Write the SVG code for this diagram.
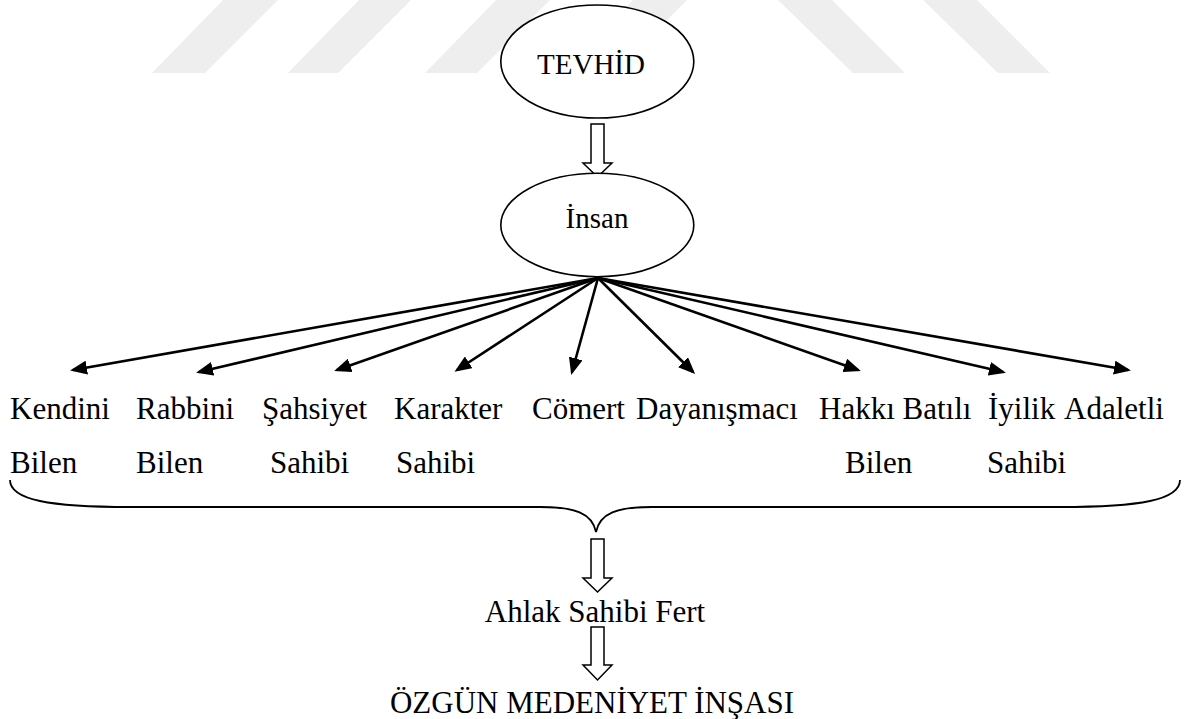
<svg xmlns="http://www.w3.org/2000/svg" width="1189" height="719" viewBox="0 0 1189 719">
<defs>
<style>
.wm{fill:#eeeeee;stroke:none}
.ell{fill:#ffffff;stroke:#000;stroke-width:1.6}
.t{font-family:"Liberation Serif","Times New Roman",serif;fill:#000}
.lab{font-size:31px}
.big{font-size:31px}
.et{font-size:29px}
.fan{stroke:#000;stroke-width:2.6;fill:none}
.hollow{fill:#fff;stroke:#000;stroke-width:1.5;stroke-linejoin:miter}
.brace{fill:none;stroke:#000;stroke-width:1.8}
</style>
<marker id="ah" markerUnits="userSpaceOnUse" markerWidth="18" markerHeight="14" refX="14" refY="7" orient="auto">
<path d="M0,0 L17,7 L0,14 Z" fill="#000"/>
</marker>
</defs>
<rect width="1189" height="719" fill="#fff"/>
<g id="watermark">
<polygon class="wm" points="152,73 205,73 280,-2 225,-2"/>
<polygon class="wm" points="288,73 338,73 413,-2 361,-2"/>
<polygon class="wm" points="425,73 477,73 552,-2 498,-2"/>
<polygon class="wm" points="562,73 614,73 689,-2 635,-2"/>
<polygon class="wm" points="776,-2 830,-2 905,73 853,73"/>
<polygon class="wm" points="921,-2 975,-2 1050,73 998,73"/>
</g>
<g id="connectors">
<path id="arrow-tevhid-insan" class="hollow" d="M591,124 L604,124 L604,163 L612,163 L597.5,177 L583,163 L591,163 Z"/>
<g id="fan">
<line class="fan" x1="598" y1="278" x2="73" y2="370" marker-end="url(#ah)"/>
<line class="fan" x1="598" y1="278" x2="199" y2="372" marker-end="url(#ah)"/>
<line class="fan" x1="598" y1="278" x2="337" y2="370" marker-end="url(#ah)"/>
<line class="fan" x1="598" y1="278" x2="457" y2="370" marker-end="url(#ah)"/>
<line class="fan" x1="598" y1="278" x2="572" y2="372" marker-end="url(#ah)"/>
<line class="fan" x1="598" y1="278" x2="693" y2="372" marker-end="url(#ah)"/>
<line class="fan" x1="598" y1="278" x2="858" y2="370" marker-end="url(#ah)"/>
<line class="fan" x1="598" y1="278" x2="1003" y2="372" marker-end="url(#ah)"/>
<line class="fan" x1="598" y1="278" x2="1128" y2="370" marker-end="url(#ah)"/>
</g>
<path id="brace" class="brace" d="M10,480 C10,500 50,507 130,507 L540,507 C575,507 592,513 596,532 C600,513 617,507 652,507 L1060,507 C1140,507 1180,500 1180,480"/>
<path id="arrow-brace-fert" class="hollow" d="M591,539 L604,539 L604,578 L612,578 L597.5,592 L583,578 L591,578 Z"/>
<path id="arrow-fert-medeniyet" class="hollow" d="M591,627 L604,627 L604,665 L612,665 L597.5,680 L583,665 L591,665 Z"/>
</g>
<g id="node-tevhid">
<ellipse class="ell" cx="597.3" cy="61.5" rx="96.5" ry="56.5"/>
<text class="t et" x="591" y="74" text-anchor="middle">TEVHİD</text>
</g>
<g id="node-insan">
<ellipse class="ell" cx="597.3" cy="225" rx="96.5" ry="51.7"/>
<text class="t et" x="597" y="228" text-anchor="middle">İnsan</text>
</g>
<g id="node-kendini"><text class="t lab" x="10" y="419">Kendini</text><text class="t lab" x="10" y="473">Bilen</text></g>
<g id="node-rabbini"><text class="t lab" x="136" y="419">Rabbini</text><text class="t lab" x="136" y="473">Bilen</text></g>
<g id="node-sahsiyet"><text class="t lab" x="262" y="419">Şahsiyet</text><text class="t lab" x="270" y="473">Sahibi</text></g>
<g id="node-karakter"><text class="t lab" x="394" y="419">Karakter</text><text class="t lab" x="396" y="473">Sahibi</text></g>
<g id="node-comert"><text class="t lab" x="532" y="419">Cömert</text></g>
<g id="node-dayanismaci"><text class="t lab" x="636" y="419">Dayanışmacı</text></g>
<g id="node-hakki"><text class="t lab" x="819" y="419">Hakkı Batılı</text><text class="t lab" x="845" y="473">Bilen</text></g>
<g id="node-iyilik"><text class="t lab" x="988" y="419">İyilik</text><text class="t lab" x="987" y="473">Sahibi</text></g>
<g id="node-adaletli"><text class="t lab" x="1064" y="419">Adaletli</text></g>
<g id="node-fert"><text class="t big" x="595" y="622" text-anchor="middle">Ahlak Sahibi Fert</text></g>
<g id="node-medeniyet"><text class="t big" x="592" y="713" text-anchor="middle">ÖZGÜN MEDENİYET İNŞASI</text></g>
</svg>
